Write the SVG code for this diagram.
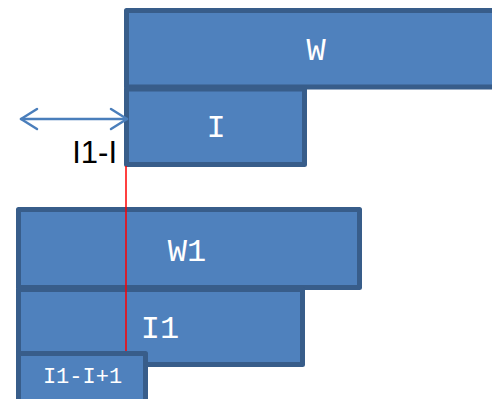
<svg xmlns="http://www.w3.org/2000/svg" width="492" height="399" viewBox="0 0 492 399">
  <style>
    .box { fill: #4F81BD; stroke: #385D8A; stroke-width: 5; stroke-linejoin: round; }
    .lbl { fill: #FFFFFF; font-family: "Liberation Mono", "DejaVu Sans Mono", monospace; text-anchor: middle; }
    .dim { fill: none; stroke: #4A7EBB; stroke-width: 2.5; stroke-linecap: round; stroke-linejoin: round; }
  </style>
  <rect width="492" height="399" fill="#FFFFFF"/>

  <g id="node-W">
    <rect class="box" x="126.5" y="10.5" width="380" height="76.5"/>
    <text class="lbl" x="316" y="60" font-size="32">W</text>
  </g>
  <g id="node-I">
    <rect class="box" x="126.5" y="89" width="178" height="75.5"/>
    <text class="lbl" x="216" y="137" font-size="32">I</text>
  </g>
  <g id="node-W1">
    <rect class="box" x="18.5" y="209.5" width="341" height="78"/>
    <text class="lbl" x="187" y="261" font-size="32">W1</text>
  </g>
  <g id="node-I1">
    <rect class="box" x="18.5" y="289.5" width="284" height="75"/>
    <text class="lbl" x="160" y="338" font-size="32">I1</text>
  </g>

  <g id="connectors">
    <!-- offset marker between the two layers -->
    <line x1="126" y1="166" x2="126" y2="353" stroke="#FF0000" stroke-width="1.5"/>
    <!-- double-headed distance arrow -->
    <line class="dim" x1="21" y1="119" x2="127" y2="119"/>
    <polyline class="dim" points="37,109 21,119 37,129"/>
    <polyline class="dim" points="111,109 127,119 111,129"/>
  </g>

  <g id="node-I1-I-plus-1">
    <rect class="box" x="18.5" y="353.5" width="127" height="60"/>
    <text class="lbl" x="82.5" y="383" font-size="22">I1-I+1</text>
  </g>

  <text id="dim-label" x="117" y="163" font-family="Liberation Sans, Arial, sans-serif" font-size="31" text-anchor="end" fill="#000000">I1-I</text>
</svg>
